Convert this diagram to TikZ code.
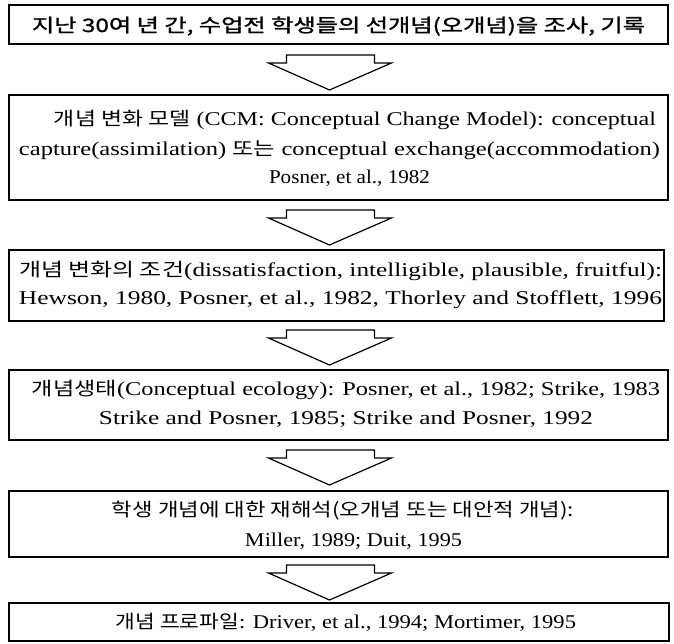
\documentclass[tikz,border=0pt]{standalone}
\usepackage{fontspec}
\usepackage{graphicx}
\setmainfont{Liberation Serif}
\newfontfamily\kr{Noto Sans CJK KR}[Scale=0.95]
\newfontfamily\krhead{Noto Sans CJK KR}[Scale=0.95,FakeBold=1.2]
\newcommand\K[1]{{\kr #1}}
\newcommand\fitline[2]{\resizebox{#1pt}{\height}{#2}}
\begin{document}
\begin{tikzpicture}[x=1pt,y=-1pt,
  stagebox/.style={draw=black, line width=1.2pt, inner sep=0pt, fill=white},
  txt/.style={inner sep=0pt, anchor=base, font=\fontsize{19.5}{24}\selectfont},
  downarrow/.pic={\draw[line width=1.2pt, line join=miter, fill=white]
     (-43,0) -- (45,0) -- (45,8) -- (62,8) -- (0,35) -- (-61,8) -- (-43,8) -- cycle;}]
\useasboundingbox (0,0) rectangle (674,644);
\fill[white] (0,0) rectangle (674,644);

% boxes
\node[stagebox, minimum width=659pt, minimum height=39pt]  (b1) at (338.5,24.5) {};
\node[stagebox, minimum width=659pt, minimum height=105pt] (b2) at (338.5,147.5) {};
\node[stagebox, minimum width=655pt, minimum height=71pt]  (b3) at (336.5,285.5) {};
\node[stagebox, minimum width=659pt, minimum height=70pt]  (b4) at (338.5,405) {};
\node[stagebox, minimum width=659pt, minimum height=66pt]  (b5) at (338.5,524) {};
\node[stagebox, minimum width=660pt, minimum height=38pt]  (b6) at (339,622) {};

% arrows between boxes
\coordinate (a1) at (329.5,55);
\coordinate (a2) at (329.5,210);
\coordinate (a3) at (329.5,330);
\coordinate (a4) at (329.5,450);
\coordinate (a5) at (329.5,565);
\pic at (a1) {downarrow};
\pic at (a2) {downarrow};
\pic at (a3) {downarrow};
\pic at (a4) {downarrow};
\pic at (a5) {downarrow};

% texts
\node[txt] (t1) at (338.5,32) {\fitline{613}{\krhead 지난 30여 년 간, 수업전 학생들의 선개념(오개념)을 조사, 기록}};

\node[txt] (t2a) at (355,126) {\fitline{602}{\K{개념 변화 모델} (CCM: Conceptual Change Model): conceptual}};
\node[txt] (t2b) at (339.5,156) {\fitline{641}{capture(assimilation) \K{또는} conceptual exchange(accommodation)}};
\node[txt] (t2c) at (349.5,184) {\fitline{161}{Posner, et al., 1982}};

\node[txt] (t3a) at (340.5,276) {\fitline{643}{\K{개념 변화의 조건}(dissatisfaction, intelligible, plausible, fruitful):}};
\node[txt] (t3b) at (340.5,304) {\fitline{643}{Hewson, 1980, Posner, et al., 1982, Thorley and Stofflett, 1996}};

\node[txt] (t4a) at (346,395) {\fitline{628}{\K{개념생태}(Conceptual ecology): Posner, et al., 1982; Strike, 1983}};
\node[txt] (t4b) at (346,424) {\fitline{494}{Strike and Posner, 1985; Strike and Posner, 1992}};

\node[txt] (t5a) at (343,516) {\fitline{462}{\K{학생 개념에 대한 재해석(오개념 또는 대안적 개념):}}};
\node[txt] (t5b) at (353.5,546) {\fitline{217}{Miller, 1989; Duit, 1995}};

\node[txt] (t6) at (346,628) {\fitline{460}{\K{개념 프로파일}: Driver, et al., 1994; Mortimer, 1995}};
\end{tikzpicture}
\end{document}
